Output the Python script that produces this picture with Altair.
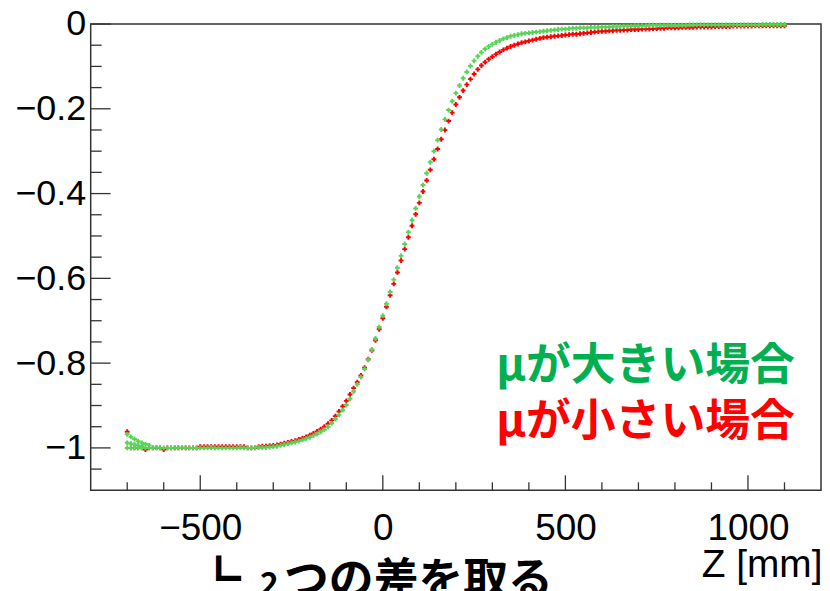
import altair as alt
import pandas as pd

# ---------------- data ----------------
z_mm = list(range(-700, 1101, 10))  # sample positions

green_y = [
    # -700 .. -320
    -1.000, -1.000, -1.000, -0.999, -1.000, -1.000, -1.000, -1.000, -0.999, -1.000,
    -1.000, -1.000, -1.000, -1.000, -1.000, -0.999, -1.000, -1.000, -1.000, -1.000,
    -1.000, -1.000, -1.000, -0.999, -1.000, -1.000, -1.000, -1.000, -1.000, -1.000,
    -1.000, -0.999, -1.000, -1.000, -1.000, -0.999, -0.999, -0.999, -0.999,
    # -310 .. -220
    -0.998, -0.997, -0.996, -0.994, -0.992, -0.990, -0.988, -0.986, -0.984, -0.981,
    # -210 .. -120
    -0.978, -0.975, -0.971, -0.967, -0.962, -0.957, -0.950, -0.942, -0.932, -0.922,
    # -110 .. -20
    -0.911, -0.899, -0.884, -0.867, -0.850, -0.833, -0.814, -0.792, -0.768, -0.742,
    # -10 .. 80
    -0.715, -0.688, -0.660, -0.632, -0.603, -0.575, -0.547, -0.519, -0.491, -0.463,
    # 90 .. 180
    -0.435, -0.407, -0.380, -0.352, -0.326, -0.300, -0.274, -0.249, -0.225, -0.203,
    # 190 .. 280
    -0.182, -0.163, -0.145, -0.128, -0.113, -0.099, -0.087, -0.076, -0.067, -0.059,
    # 290 .. 380
    -0.053, -0.048, -0.043, -0.039, -0.035, -0.032, -0.029, -0.027, -0.025, -0.023,
    # 390 .. 480
    -0.022, -0.021, -0.020, -0.019, -0.018, -0.017, -0.016, -0.015, -0.014, -0.013,
    # 490 .. 580
    -0.012, -0.012, -0.011, -0.010, -0.010, -0.009, -0.009, -0.009, -0.008, -0.008,
    # 590 .. 680
    -0.008, -0.007, -0.007, -0.007, -0.006, -0.006, -0.006, -0.005, -0.005, -0.005,
    # 690 .. 780
    -0.004, -0.004, -0.004, -0.004, -0.003, -0.003, -0.003, -0.003, -0.003, -0.003,
    # 790 .. 880
    -0.003, -0.003, -0.003, -0.003, -0.003, -0.002, -0.002, -0.002, -0.002, -0.002,
    # 890 .. 980
    -0.002, -0.002, -0.002, -0.002, -0.002, -0.002, -0.002, -0.002, -0.002, -0.002,
    # 990 .. 1080
    -0.002, -0.002, -0.002, -0.002, -0.002, -0.001, -0.001, -0.001, -0.001, -0.001,
    # 1090 .. 1100
    -0.001, -0.001,
]

red_y = [
    # -700 .. -610
    -0.962, -1.000, -1.000, -1.000, -1.000, -1.004, -1.000, -1.000, -1.000, -1.000,
    # -600 .. -510
    -1.004, -1.000, -1.000, -1.000, -1.000, -1.000, -1.000, -1.000, -1.000, -1.000,
    # -500 .. -410
    -0.997, -0.997, -0.997, -0.997, -0.997, -0.997, -0.997, -0.997, -0.997, -0.997,
    # -400 .. -310
    -0.997, -0.997, -0.997, -1.000, -1.000, -1.000, -0.997, -0.996, -0.996, -0.995,
    # -300 .. -210
    -0.994, -0.993, -0.991, -0.989, -0.987, -0.985, -0.983, -0.980, -0.977, -0.974,
    # -200 .. -110
    -0.970, -0.966, -0.961, -0.956, -0.950, -0.943, -0.935, -0.925, -0.914, -0.902,
    # -100 .. -10
    -0.889, -0.874, -0.859, -0.845, -0.829, -0.811, -0.791, -0.770, -0.746, -0.720,
    # 0 .. 90
    -0.694, -0.667, -0.640, -0.613, -0.586, -0.558, -0.531, -0.503, -0.476, -0.449,
    # 100 .. 190
    -0.422, -0.395, -0.369, -0.344, -0.319, -0.295, -0.272, -0.250, -0.229, -0.209,
    # 200 .. 290
    -0.190, -0.173, -0.157, -0.143, -0.130, -0.118, -0.107, -0.098, -0.090, -0.083,
    # 300 .. 390
    -0.077, -0.071, -0.066, -0.061, -0.057, -0.053, -0.050, -0.047, -0.044, -0.042,
    # 400 .. 490
    -0.040, -0.038, -0.036, -0.034, -0.032, -0.031, -0.030, -0.029, -0.028, -0.027,
    # 500 .. 590
    -0.026, -0.025, -0.024, -0.024, -0.023, -0.022, -0.021, -0.020, -0.019, -0.018,
    # 600 .. 690
    -0.017, -0.017, -0.016, -0.016, -0.015, -0.015, -0.014, -0.014, -0.013, -0.013,
    # 700 .. 790
    -0.013, -0.012, -0.012, -0.012, -0.011, -0.011, -0.010, -0.010, -0.009, -0.009,
    # 800 .. 890
    -0.009, -0.009, -0.008, -0.008, -0.008, -0.008, -0.007, -0.007, -0.007, -0.007,
    # 900 .. 990
    -0.007, -0.006, -0.006, -0.006, -0.006, -0.006, -0.005, -0.005, -0.005, -0.005,
    # 1000 .. 1090
    -0.005, -0.005, -0.004, -0.004, -0.004, -0.004, -0.004, -0.004, -0.004, -0.004,
    # 1100
    -0.004,
]

# extra green points near the left edge
green_extra_z = [-700, -690, -680, -670, -660, -650, -640, -700, -690, -680, -670, -660]
green_extra_y = [-0.968, -0.974, -0.979, -0.984, -0.988, -0.991, -0.994,
                 -0.988, -0.990, -0.992, -0.994, -0.996]

x_major = [-500, 0, 500, 1000]
x_minor = [-700, -600, -400, -300, -200, -100, 100, 200, 300, 400,
           600, 700, 800, 900, 1100]
y_major = [0, -0.2, -0.4, -0.6, -0.8, -1.0]
y_minor = [-0.05, -0.1, -0.15, -0.25, -0.3, -0.35, -0.45, -0.5, -0.55,
           -0.65, -0.7, -0.75, -0.85, -0.9, -0.95, -1.05]

label_big = "μが大きい場合"
label_small = "μが小さい場合"
note_mark = "┗"
note_num = "2"
note_rest = "つの差を取る"
x_title = "Z [mm]"

assert len(green_y) == len(z_mm) and len(red_y) == len(z_mm)

# ---------------- chart ----------------
W, H = 733, 468
GREEN = "#58d358"
RED = "#ff0000"
FRAME = "#333333"
XFONT = "Liberation Sans Narrow, Liberation Sans, Arial"

xs = alt.Scale(domain=[-800, 1200], nice=False, zero=False)
ys = alt.Scale(domain=[-1.1, 0], nice=False, zero=False)

red_df = pd.DataFrame({"z": z_mm, "y": red_y})
green_df = pd.DataFrame({"z": z_mm + green_extra_z, "y": green_y + green_extra_y})

x_axis = alt.Axis(values=x_major, format="d", grid=False, ticks=False, tickSize=0,
                  domain=False, labelFont=XFONT,
                  labelFontSize=37, labelColor="black", labelPadding=49,
                  labelBaseline="alphabetic", labelFlush=False,
                  title=x_title, titleFont=XFONT,
                  titleFontSize=39, titleFontWeight="normal", titleColor="black",
                  titleAnchor="end", titleAlign="right", titleX=W + 1, titleY=87,
                  titleBaseline="alphabetic")
y_axis = alt.Axis(values=y_major, format="~g", grid=False, ticks=False, tickSize=0,
                  domain=False, labelFont="Liberation Sans", labelFontSize=36,
                  labelColor="black", labelPadding=5, labelFlush=False, title=None)

red_pts = alt.Chart(red_df).mark_point(shape="cross", filled=True, size=24,
                                       color=RED, opacity=1).encode(
    x=alt.X("z:Q", scale=xs, axis=x_axis),
    y=alt.Y("y:Q", scale=ys, axis=y_axis),
)
green_pts = alt.Chart(green_df).mark_point(shape="cross", filled=True, size=24,
                                           color=GREEN, opacity=1).encode(
    x=alt.X("z:Q", scale=xs, axis=x_axis),
    y=alt.Y("y:Q", scale=ys, axis=y_axis),
)

def yticks(vals, length):
    return alt.Chart(pd.DataFrame({"y": vals})).mark_rule(
        color=FRAME, strokeWidth=1.3).encode(
        y=alt.Y("y:Q", scale=ys, axis=y_axis), x=alt.value(0), x2=alt.value(length))

def xticks(vals, length):
    return alt.Chart(pd.DataFrame({"z": vals})).mark_rule(
        color=FRAME, strokeWidth=1.3).encode(
        x=alt.X("z:Q", scale=xs, axis=x_axis), y=alt.value(H), y2=alt.value(H - length))

def note(text, x, y, color, size):
    return alt.Chart(pd.DataFrame({"t": [text]})).mark_text(
        align="left", baseline="alphabetic", font="Noto Sans CJK JP",
        fontSize=size, fontWeight="bold", color=color).encode(
        x=alt.value(x), y=alt.value(y), text="t:N")

chart = alt.layer(
    red_pts, green_pts,
    yticks(y_major, 20), yticks(y_minor, 11),
    xticks(x_major, 15), xticks(x_minor, 8),
    note(label_big, 407, 357, "#00b050", 45),
    note(label_small, 407, 414, RED, 45),
    note(note_mark, 106, 573, "black", 45),
    note(note_num, 170, 573, "black", 32),
    note(note_rest, 194, 573, "black", 45),
).properties(
    width=W, height=H,
    autosize=alt.AutoSizeParams(type="none"),
    padding={"left": 83, "top": 15, "right": 1, "bottom": 100},
    background="white",
).configure_view(stroke=FRAME, strokeWidth=1.5)

chart.save("out.html", embed_options={"renderer": "svg", "actions": False})
